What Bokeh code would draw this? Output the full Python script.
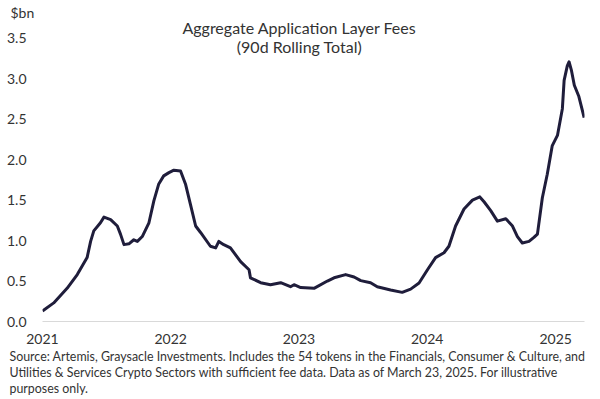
import pandas as pd
from bokeh.plotting import figure
from bokeh.models import Label, Title, DatetimeTickFormatter, FixedTicker, Range1d, NumeralTickFormatter
from bokeh.embed import file_html
from bokeh.resources import INLINE

dates = [
    "2021-01-01", "2021-02-02", "2021-03-12", "2021-04-10", "2021-05-08", "2021-05-18",
    "2021-05-27", "2021-06-15", "2021-06-25", "2021-07-14", "2021-08-02", "2021-08-11",
    "2021-08-21", "2021-09-04", "2021-09-18", "2021-09-28", "2021-10-12", "2021-10-31",
    "2021-11-14", "2021-11-28", "2021-12-12", "2021-12-27", "2022-01-10", "2022-01-29",
    "2022-02-12", "2022-02-26", "2022-03-13", "2022-03-27", "2022-04-24", "2022-05-09",
    "2022-05-18", "2022-06-01", "2022-06-20", "2022-07-19", "2022-08-12", "2022-08-16",
    "2022-09-14", "2022-10-12", "2022-11-10", "2022-12-08", "2022-12-18", "2023-01-06",
    "2023-02-13", "2023-03-23", "2023-04-11", "2023-05-14", "2023-06-07", "2023-06-26",
    "2023-07-24", "2023-08-12", "2023-09-19", "2023-10-22", "2023-11-15", "2023-12-09",
    "2024-01-02", "2024-01-25", "2024-02-18", "2024-03-03", "2024-03-22", "2024-04-15",
    "2024-05-09", "2024-05-30", "2024-06-11", "2024-06-30", "2024-07-19", "2024-08-12",
    "2024-08-31", "2024-09-14", "2024-09-28", "2024-10-17", "2024-10-31", "2024-11-10",
    "2024-11-24", "2024-12-08", "2024-12-22", "2025-01-06", "2025-01-20", "2025-01-25",
    "2025-02-03", "2025-02-08", "2025-02-15", "2025-02-23", "2025-03-08", "2025-03-23",
]
fees_bn = [
    0.13, 0.23, 0.41, 0.58, 0.79, 0.99,
    1.12, 1.22, 1.29, 1.26, 1.18, 1.08,
    0.95, 0.96, 1.01, 0.99, 1.05, 1.22,
    1.49, 1.70, 1.80, 1.84, 1.87, 1.86,
    1.70, 1.45, 1.18, 1.10, 0.93, 0.91,
    0.99, 0.95, 0.91, 0.74, 0.64, 0.54,
    0.48, 0.455, 0.48, 0.43, 0.455, 0.42,
    0.41, 0.50, 0.54, 0.58, 0.55, 0.505,
    0.48, 0.43, 0.39, 0.36, 0.40, 0.475,
    0.64, 0.79, 0.85, 0.93, 1.18, 1.39,
    1.50, 1.54, 1.48, 1.37, 1.24, 1.27,
    1.18, 1.05, 0.97, 0.99, 1.04, 1.08,
    1.53, 1.82, 2.17, 2.30, 2.63, 2.98,
    3.16, 3.21, 3.10, 2.92, 2.78, 2.52,
]
year_ticks = ["2021-01-01", "2022-01-01", "2023-01-01", "2024-01-01", "2025-01-01"]
y_ticks = [0.0, 0.5, 1.0, 1.5, 2.0, 2.5, 3.0, 3.5]

title_line1 = "Aggregate Application Layer Fees"
title_line2 = "(90d Rolling Total)"
unit_label = "$bn"
source_lines = [
    "Source: Artemis, Graysacle Investments. Includes the 54 tokens in the Financials, Consumer & Culture, and",
    "Utilities & Services Crypto Sectors with sufficient fee data. Data as of March 23, 2025. For illustrative",
    "purposes only.",
]

FONT = "Lato"
TXT = "#333333"

x = pd.to_datetime(dates)
p = figure(width=592, height=399, x_axis_type="datetime", output_backend="svg",
           toolbar_location=None,
           x_range=Range1d(pd.Timestamp("2021-01-01"), pd.Timestamp("2025-03-24")),
           y_range=Range1d(0, 3.72),
           min_border_left=42, min_border_right=8, min_border_top=20, min_border_bottom=78)
p.outline_line_color = None
p.background_fill_color = "white"
p.border_fill_color = "white"
p.xgrid.visible = False
p.ygrid.visible = False

p.line(x, fees_bn, line_color="#1f1d3b", line_width=3, line_join="round")

tick_ms = [pd.Timestamp(t).value // 10**6 for t in year_ticks]
p.xaxis.ticker = FixedTicker(ticks=tick_ms)
p.xaxis.formatter = DatetimeTickFormatter(years="%Y", months="%Y", days="%Y", hours="%Y")
p.xaxis.axis_line_color = "#d9d9d9"
p.xaxis.major_tick_line_color = None
p.xaxis.minor_tick_line_color = None
p.xaxis.major_label_standoff = 6
p.yaxis.ticker = FixedTicker(ticks=y_ticks)
p.yaxis.formatter = NumeralTickFormatter(format="0.0")
p.yaxis.axis_line_color = None
p.yaxis.major_tick_line_color = None
p.yaxis.minor_tick_line_color = None
p.yaxis.major_label_standoff = 10
for ax in (p.xaxis, p.yaxis):
    ax.major_label_text_font = FONT
    ax.major_label_text_font_size = "14px"
    ax.major_label_text_color = TXT

p.add_layout(Title(text=unit_label, align="left", offset=-32, standoff=0,
                   text_font=FONT, text_font_size="14px", text_font_style="normal",
                   text_color=TXT), "above")
for i, line in enumerate(source_lines):
    p.add_layout(Title(text=line, align="left", offset=-33, standoff=(0 if i == 0 else -1),
                       text_font=FONT, text_font_size="12.4px", text_font_style="normal",
                       text_color=TXT), "below")

def lab(text, x, y, align="center", size="16px"):
    p.add_layout(Label(x=x, y=y, x_units="screen", y_units="screen", text=text,
                       text_align=align, text_baseline="middle", text_font=FONT,
                       text_font_size=size, text_color=TXT))

lab(title_line1, 257, 294)
lab(title_line2, 257, 275)

open("out.html", "w").write(file_html(p, INLINE))
